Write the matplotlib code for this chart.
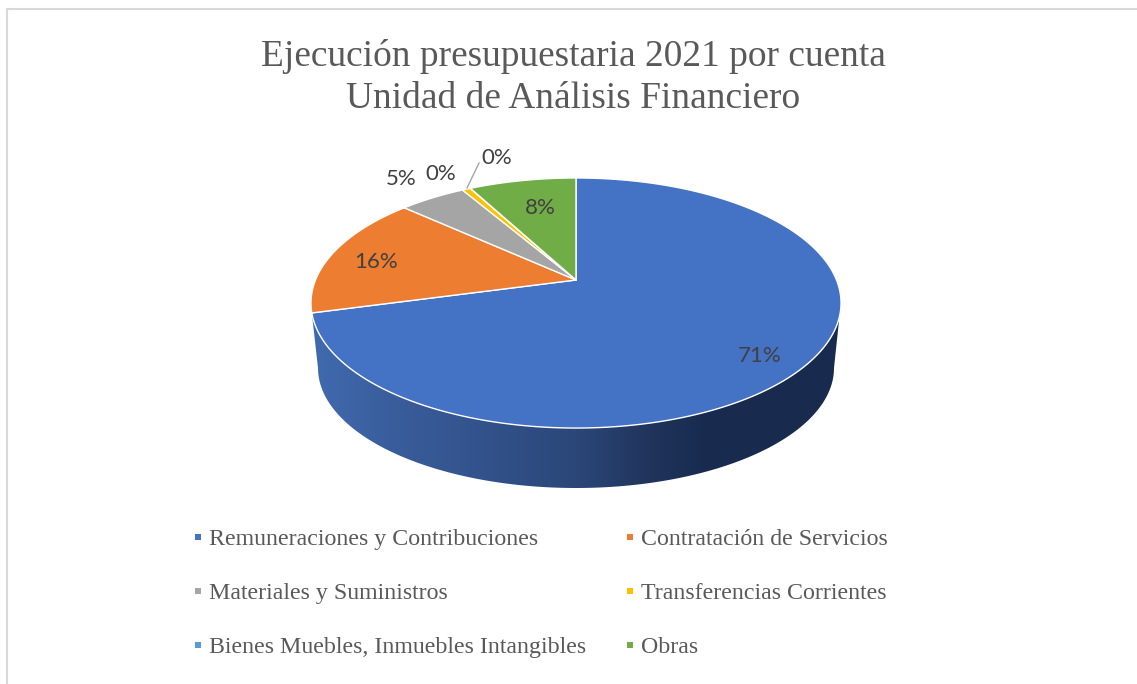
import matplotlib
import numpy as np

matplotlib.use('agg')

import matplotlib.pyplot as plt
from matplotlib.patches import Polygon

title_lines = ['Ejecución presupuestaria 2021 por cuenta', 'Unidad de Análisis Financiero']
categories = [
  'Remuneraciones y Contribuciones',
  'Contratación de Servicios',
  'Materiales y Suministros',
  'Transferencias Corrientes',
  'Bienes Muebles, Inmuebles Intangibles',
  'Obras',
]
values = [70.8, 15.9, 4.85, 0.6, 0.02, 7.8]
percent_labels = ['71%', '16%', '5%', '0%', '0%', '8%']
colors = ['#4472c4', '#ed7d31', '#a5a5a5', '#ffc000', '#5b9bd5', '#70ad47']

W, H = 1137, 684

# the pie is a circle seen in perspective, apex on screen at (cx, cy)
cx, cy = 576, 280
persp = 0.184
scale_x, scale_y = 260.5, 120.8


def rim(theta):
  u, v = np.sin(theta), np.cos(theta)
  d = 1 + persp * v
  return cx + scale_x * u / d, cy - scale_y * v / d


plt.rcParams['font.family'] = 'Liberation Serif'

fig = plt.figure(figsize=(W / 100, H / 100), dpi=100)
ax = fig.add_axes([0, 0, 1, 1])
ax.axis('off')

fractions = np.array(values) / sum(values)
edges = np.concatenate(([0], np.cumsum(fractions))) * 2 * np.pi

# side wall, only the front of the first slice shows
t = np.linspace(edges[1], np.radians(100), 200)
top_x, top_y = rim(t)
p = np.linspace(0, np.pi, 200)
low_x = 576 + 258 * np.cos(p)
low_y = 368 + 120 * np.sin(p)
wall = Polygon(np.column_stack((np.concatenate((top_x, low_x)),
                                np.concatenate((top_y, low_y)))),
               closed=True, facecolor='none', edgecolor='none')
ax.add_patch(wall)

stops_x = [312, 400, 500, 576, 650, 700, 841]
stops_r = [0x40, 0x39, 0x31, 0x2b, 0x20, 0x19, 0x18]
stops_g = [0x6a, 0x5c, 0x50, 0x47, 0x34, 0x2c, 0x2a]
stops_b = [0xb0, 0x9a, 0x88, 0x78, 0x5c, 0x50, 0x4e]
xs = np.arange(310, 843)
grad = np.stack([np.interp(xs, stops_x, s) / 255 for s in (stops_r, stops_g, stops_b)], axis=1)[None, :, :]
im = ax.imshow(grad, extent=[310, 843, 500, 300], aspect='auto', interpolation='bilinear')
im.set_clip_path(wall)

# top face
for i, c in enumerate(colors):
  t = np.linspace(edges[i], edges[i + 1], max(int(fractions[i] * 400), 2))
  x, y = rim(t)
  ax.fill(np.concatenate(([cx], x)), np.concatenate(([cy], y)), facecolor=c,
          edgecolor='white', linewidth=1.0, joinstyle='round')

ax.set_xlim(0, W)
ax.set_ylim(H, 0)

# data labels
label_x = [760, 376, 401, 441, 497, 540]
label_y = [356, 262, 179, 174, 158, 208]
for lab, x, y in zip(percent_labels, label_x, label_y):
  ax.text(x, y, lab, ha='center', va='center', fontsize=16, family='Lato', color='#404040')
ax.plot([467, 479], [188, 163], color='#a6a6a6', linewidth=1)

# title
ax.text(573, 65.5, title_lines[0], ha='center', va='baseline', fontsize=26.9, color='#595959')
ax.text(573.5, 108, title_lines[1], ha='center', va='baseline', fontsize=26.9, color='#595959')

# legend
legend_x = [195, 627, 195, 627, 195, 627]
legend_y = [537, 537, 591, 591, 645, 645]
for name, c, x, y in zip(categories, colors, legend_x, legend_y):
  ax.scatter([x + 3], [y], marker='s', s=24, color=c, linewidths=0)
  ax.text(x + 14, y + 8, name, ha='left', va='baseline', fontsize=17.2, color='#595959')

# frame, only left and top are inside the crop
ax.plot([7, 7, W], [H, 9, 9], color='#d9d9d9', linewidth=1.5)

plt.savefig('out.png', dpi=100)
plt.close()
